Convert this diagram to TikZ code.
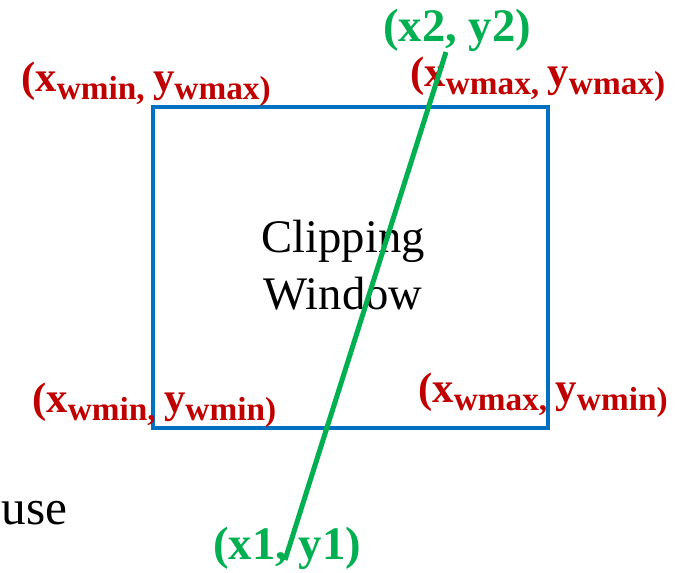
\documentclass[tikz,border=0pt]{standalone}
\usepackage{fontspec}
\setmainfont{Liberation Serif}
\usetikzlibrary{positioning}

\definecolor{winblue}{HTML}{0070C0}
\definecolor{cornerred}{HTML}{C00000}
\definecolor{seggreen}{HTML}{00B050}

% subscript part of the corner labels
\newcommand{\wsub}[1]{\raisebox{-6pt}{\fontsize{25}{28}\selectfont #1}}

\begin{document}
\begin{tikzpicture}[
        x=0.75pt, y=-0.75pt,
        corner/.style={anchor=base west, inner sep=0pt, text=cornerred,
                       font=\fontsize{32}{36}\selectfont\bfseries},
        endpt/.style={anchor=base west, inner sep=0pt, text=seggreen,
                      font=\fontsize{35}{38}\selectfont\bfseries},
        window/.style={draw=winblue, line width=3pt},
        segment/.style={draw=seggreen, line width=3.75pt}
    ]
    \useasboundingbox (0,0) rectangle (676,573);

    % clipping window
    \draw[window] (153,107) rectangle (548,428);
    \node[align=center, inner sep=0pt, font=\fontsize{35}{42.75}\selectfont]
        (title) at (343,265) {Clipping\\Window};

    % corner labels
    \node[corner] (tl) at (21,92)  {(x\wsub{wmin, }y\wsub{wmax)}};
    \node[corner] (tr) at (410,87) {(x\wsub{wmax, }y\wsub{wmax)}};
    \node[corner] (bl) at (32,413) {(x\wsub{wmin, }y\wsub{wmin)}};
    \node[corner] (br) at (418,403) {(x\wsub{wmax, }y\wsub{wmin)}};

    % line to be clipped
    \coordinate (p1) at (285,560);
    \coordinate (p2) at (446,52);
    \draw[segment] (p1) -- (p2);
    \node[endpt] (lp2) at (383,42) {(x2, y2)};
    \node[endpt] (lp1) at (213,560) {(x1, y1)};

    \node[anchor=base east, inner sep=0pt, font=\fontsize{37}{40}\selectfont]
        (cut) at (68,525) {use};
\end{tikzpicture}
\end{document}
